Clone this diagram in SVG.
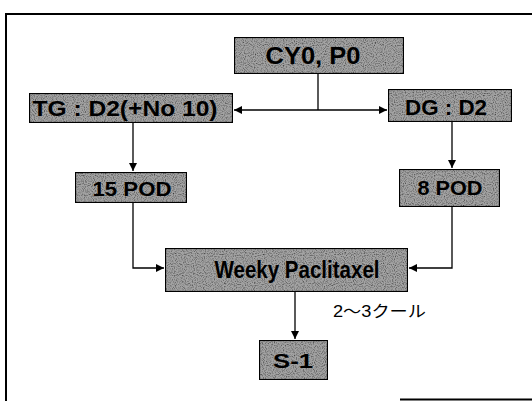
<svg xmlns="http://www.w3.org/2000/svg" width="532" height="401" viewBox="0 0 532 401">
<style>
.box{fill:#a3a3a3;stroke:#000;stroke-width:2.2}
.lbl{font-family:"Liberation Sans",Arial,sans-serif;font-weight:bold;fill:#000;text-anchor:middle}
.ln{fill:none;stroke:#000;stroke-width:1.3}
.frame{fill:none;stroke:#000;stroke-width:2}
</style>
<defs>
<filter id="grain" x="0" y="0" width="1" height="1">
<feTurbulence type="fractalNoise" baseFrequency="0.9" numOctaves="1" seed="3" result="n"/>
<feColorMatrix in="n" type="matrix" values="0 0 0 0 0  0 0 0 0 0  0 0 0 0 0  0 0 0 -2.2 1.25" result="dots"/>
<feComposite in="dots" in2="SourceGraphic" operator="in" result="d2"/>
<feMerge><feMergeNode in="SourceGraphic"/><feMergeNode in="d2"/></feMerge>
</filter>
<marker id="ah" viewBox="0 0 10 10" refX="10" refY="5" markerWidth="8" markerHeight="8" markerUnits="userSpaceOnUse" orient="auto">
<path d="M0,0 L10,5 L0,10 z" fill="#000"/>
</marker>
</defs>
<path class="frame" d="M6,401 V14 H532"/>
<line class="frame" x1="400" y1="399.5" x2="532" y2="399.5"/>
<g id="connectors">
<path class="ln" d="M318,74 V110"/>
<line class="ln" x1="318" y1="110" x2="234" y2="110" marker-end="url(#ah)"/>
<line class="ln" x1="318" y1="110" x2="387" y2="110" marker-end="url(#ah)"/>
<line class="ln" x1="133" y1="123" x2="133" y2="171" marker-end="url(#ah)"/>
<line class="ln" x1="452" y1="122" x2="452" y2="168" marker-end="url(#ah)"/>
<path class="ln" d="M133,203 V268 H164" marker-end="url(#ah)"/>
<path class="ln" d="M452,207 V268 H409" marker-end="url(#ah)"/>
<line class="ln" x1="295" y1="292" x2="295" y2="339" marker-end="url(#ah)"/>
</g>
<g id="n-cy0">
<rect class="box" filter="url(#grain)" x="234" y="37" width="170" height="37"/>
<text class="lbl" x="313" y="64" font-size="24" textLength="95" lengthAdjust="spacingAndGlyphs">CY0, P0</text>
</g>
<g id="n-tg">
<rect class="box" filter="url(#grain)" x="29" y="93" width="204" height="30"/>
<text class="lbl" x="125" y="116" font-size="22" textLength="185" lengthAdjust="spacingAndGlyphs">TG : D2(+No 10)</text>
</g>
<g id="n-dg">
<rect class="box" filter="url(#grain)" x="388" y="89" width="124" height="33"/>
<text class="lbl" x="446" y="115" font-size="22" textLength="82" lengthAdjust="spacingAndGlyphs">DG : D2</text>
</g>
<g id="n-15pod">
<rect class="box" filter="url(#grain)" x="75" y="172" width="112" height="31"/>
<text class="lbl" x="132" y="196" font-size="21" textLength="79" lengthAdjust="spacingAndGlyphs">15 POD</text>
</g>
<g id="n-8pod">
<rect class="box" filter="url(#grain)" x="399" y="169" width="101" height="38"/>
<text class="lbl" x="450" y="195" font-size="21" textLength="65" lengthAdjust="spacingAndGlyphs">8 POD</text>
</g>
<g id="n-weeky">
<rect class="box" filter="url(#grain)" x="165" y="248" width="243" height="44"/>
<text class="lbl" x="297" y="278" font-size="23" textLength="165" lengthAdjust="spacingAndGlyphs">Weeky Paclitaxel</text>
</g>
<g id="n-s1">
<rect class="box" filter="url(#grain)" x="259" y="340" width="69" height="40"/>
<text class="lbl" x="293" y="368" font-size="21" textLength="40" lengthAdjust="spacingAndGlyphs">S-1</text>
</g>
<text x="333" y="317" font-family="'Liberation Sans','Noto Sans CJK JP',sans-serif" font-size="16" fill="#000" textLength="93" lengthAdjust="spacingAndGlyphs">2～3クール</text>
</svg>
